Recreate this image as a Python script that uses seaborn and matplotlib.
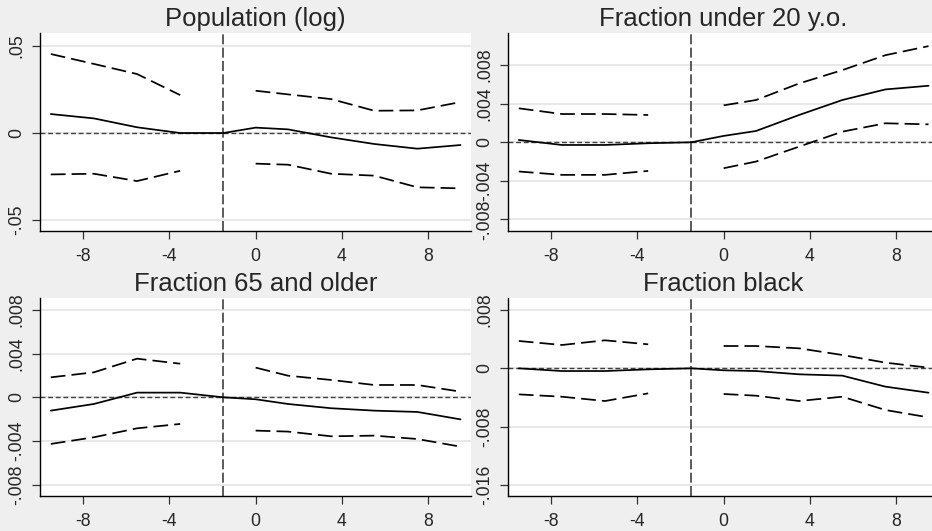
import numpy as np
import pandas as pd
import seaborn as sns
import matplotlib.pyplot as plt

# event-time bins
x_pre = [-9.5, -7.5, -5.5, -3.5]
x_post = [0, 1.5, 3.5, 5.5, 7.5, 9.5]
x_coef = x_pre + [-1.5] + x_post

titles = ['Population (log)', 'Fraction under 20 y.o.',
          'Fraction 65 and older', 'Fraction black']

# point estimates (pre, reference, post)
coef_pop = [0.0109, 0.0084, 0.0033, 0.0, 0.0, 0.0031, 0.0021, -0.0025, -0.0063, -0.0090, -0.0069]
coef_u20 = [0.00024, -0.00028, -0.00028, -0.0001, 0.0, 0.00066, 0.00117, 0.00283, 0.00438, 0.00548, 0.00586]
coef_65 = [-0.00122, -0.00061, 0.00043, 0.00043, 0.0, -0.00018, -0.00061, -0.0010, -0.00122, -0.00134, -0.00202]
coef_blk = [0.0, -0.00037, -0.00037, -0.00014, 0.0, -0.00027, -0.00037, -0.00082, -0.0010, -0.00251, -0.00334]

# upper / lower confidence bounds, pre and post segments
hi_pre_pop = [0.0454, 0.0397, 0.0339, 0.0218]
hi_post_pop = [0.0243, 0.0222, 0.0195, 0.0128, 0.0130, 0.0178]
lo_pre_pop = [-0.0238, -0.0234, -0.0276, -0.0217]
lo_post_pop = [-0.0176, -0.0182, -0.0234, -0.0245, -0.0312, -0.0318]

hi_pre_u20 = [0.00352, 0.00293, 0.00293, 0.00283]
hi_post_u20 = [0.00383, 0.00438, 0.0061, 0.00748, 0.00903, 0.00997]
lo_pre_u20 = [-0.00303, -0.00338, -0.00338, -0.00297]
lo_post_u20 = [-0.00269, -0.0020, -0.00045, 0.0011, 0.00197, 0.00186]

hi_pre_65 = [0.00183, 0.00229, 0.00354, 0.00308]
hi_post_65 = [0.00272, 0.00198, 0.00159, 0.00113, 0.00113, 0.00052]
lo_pre_65 = [-0.00427, -0.00366, -0.00284, -0.00244]
lo_post_65 = [-0.00305, -0.00314, -0.00357, -0.00351, -0.00382, -0.00452]

hi_pre_blk = [0.00375, 0.0032, 0.00384, 0.00329]
hi_post_blk = [0.00306, 0.00306, 0.00274, 0.00183, 0.00078, 0.00009]
lo_pre_blk = [-0.00357, -0.00389, -0.00448, -0.00343]
lo_post_blk = [-0.00352, -0.00375, -0.00448, -0.00389, -0.00571, -0.00672]

coefs = [coef_pop, coef_u20, coef_65, coef_blk]
bounds = [
    [hi_pre_pop, hi_post_pop, lo_pre_pop, lo_post_pop],
    [hi_pre_u20, hi_post_u20, lo_pre_u20, lo_post_u20],
    [hi_pre_65, hi_post_65, lo_pre_65, lo_post_65],
    [hi_pre_blk, hi_post_blk, lo_pre_blk, lo_post_blk],
]

xticks = [-8, -4, 0, 4, 8]
yticks = [[-0.05, 0, 0.05],
          [-0.008, -0.004, 0, 0.004, 0.008],
          [-0.008, -0.004, 0, 0.004, 0.008],
          [-0.016, -0.008, 0, 0.008]]
ylabels = [['-.05', '0', '.05'],
           ['-.008', '-.004', '0', '.004', '.008'],
           ['-.008', '-.004', '0', '.004', '.008'],
           ['-.016', '-.008', '0', '.008']]
ylims = [(-0.0563, 0.0573), (-0.0092, 0.0113), (-0.00904, 0.00907), (-0.0175, 0.0096)]

sns.set_style('white')
plt.rcParams['font.family'] = ['Liberation Sans', 'DejaVu Sans']

bg = '#efefef'
fig = plt.figure(figsize=(9.32, 5.31), dpi=100, facecolor=bg)

W, H = 932, 531
positions = [(40, 33.3), (508, 33.3), (40, 298.3), (508, 298.3)]
pw, ph = 431.3, 197.7

for i in range(4):
    left, top = positions[i]
    ax = fig.add_axes([left / W, (H - top - ph) / H, pw / W, ph / H])
    ax.set_facecolor('white')

    sns.lineplot(x=x_coef, y=coefs[i], ax=ax, color='black', lw=1.25)
    hi_pre, hi_post, lo_pre, lo_post = bounds[i]
    for xs, ys in [(x_pre, hi_pre), (x_post, hi_post), (x_pre, lo_pre), (x_post, lo_post)]:
        sns.lineplot(x=xs, y=ys, ax=ax, color='black', lw=1.25,
                     linestyle=(0, (8.5, 3.5)))

    ax.axhline(0, color='#404040', lw=1.0, linestyle=(0, (3.5, 2)), zorder=1)
    ax.axvline(-1.5, color='#404040', lw=1.2, linestyle=(0, (6, 2)), zorder=1)

    ax.set_xlim(-10, 10)
    ax.set_ylim(*ylims[i])
    ax.set_xticks(xticks)
    ax.set_xticklabels([str(t) for t in xticks])
    ax.set_yticks(yticks[i])
    ax.set_yticklabels(ylabels[i], rotation=90, va='center')
    ax.yaxis.grid(True, color='#e6e6e6', lw=1.3)
    ax.set_axisbelow(True)

    for s in ['top', 'right']:
        ax.spines[s].set_visible(False)
    for s in ['left', 'bottom']:
        ax.spines[s].set_color('black')
        ax.spines[s].set_linewidth(1.0)
    ax.tick_params(axis='both', which='major', direction='out', length=5.5, width=0.9,
                   color='#333333', labelsize=12.7, pad=5, left=True, bottom=True)
    ax.tick_params(axis='x', pad=6.5)
    ax.set_title(titles[i], fontsize=18.5, pad=5)
    ax.set_xlabel('')
    ax.set_ylabel('')

fig.savefig('out.png', dpi=100, facecolor=bg)
